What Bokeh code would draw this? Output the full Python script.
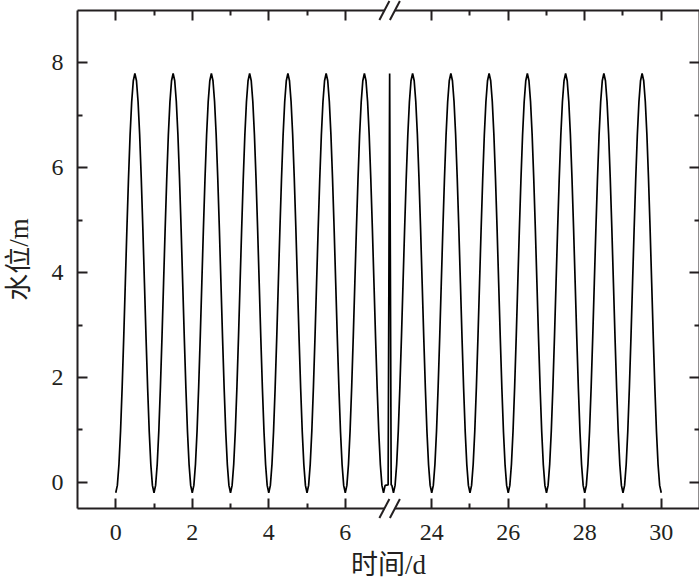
from bokeh.plotting import figure
from bokeh.models import Range1d, LinearAxis, FixedTicker, CustomJSTickFormatter, CustomLabelingPolicy
from bokeh.embed import file_html
from bokeh.resources import INLINE

# ---------------- data ----------------
# one tidal cycle (one day), water level (m) read every hour, trough at hour 0
cycle_hours = list(range(24))
cycle_level = [-0.20, -0.06, 0.34, 0.97, 1.80, 2.76, 3.80, 4.84, 5.80, 6.63, 7.26, 7.66,
               7.80, 7.66, 7.26, 6.63, 5.80, 4.84, 3.80, 2.76, 1.80, 0.97, 0.34, -0.06]
left_days = [0, 1, 2, 3, 4, 5, 6]            # cycles shown before the axis break
right_days = [23, 24, 25, 26, 27, 28, 29]    # cycles shown after the axis break
spike_level = [-0.05, 7.80, -0.05]           # line drawn at the break

x_major_left = [0, 2, 4, 6]
x_minor_left = [1, 3, 5]
x_major_right = [24, 26, 28, 30]
x_minor_right = [25, 27, 29]
y_major = [0, 2, 4, 6, 8]
y_minor = [1, 3, 5, 7]

break_left = 7.16     # axis value at the break, left part
break_right = 22.90   # axis value at the break, right part
x_start, x_end = -1.0, 31.0
y_start, y_end = -0.5, 9.0

x_title = "时间/d"
y_title = "水位/m"

# ---------------- build the broken-axis coordinates ----------------
shift = break_right - break_left
FW, FH = 622, 498
INK = "#231f20"

left_t = [d + h / 24 for d in left_days for h in cycle_hours]
left_y = cycle_level * len(left_days)
left_t += [left_days[-1] + 1 + h / 24 for h in cycle_hours[:2]]
left_y += cycle_level[:2]

right_t = [right_days[0] - 1 / 24] + [d + h / 24 for d in right_days for h in cycle_hours] + [right_days[-1] + 1]
right_y = [cycle_level[-1]] + cycle_level * len(right_days) + [cycle_level[0]]

spike_u = [break_left - 0.04, break_left, break_left + 0.04]

u_all = left_t + spike_u + [t - shift for t in right_t]
y_all = left_y + spike_level + right_y

p = figure(frame_width=FW, frame_height=FH,
           x_range=Range1d(x_start, x_end - shift), y_range=Range1d(y_start, y_end),
           output_backend="svg", toolbar_location=None,
           min_border_left=76, min_border_right=0, min_border_top=10, min_border_bottom=0)
p.outline_line_color = None
p.xgrid.visible = False
p.ygrid.visible = False
p.background_fill_color = "white"
p.border_fill_color = "white"

p.line(u_all, y_all, line_color="black", line_width=1.7)

xt = FixedTicker(ticks=x_major_left + [t - shift for t in x_major_right],
                 minor_ticks=x_minor_left + [t - shift for t in x_minor_right])
yt = FixedTicker(ticks=y_major, minor_ticks=y_minor)
fmt = CustomJSTickFormatter(args=dict(brk=break_left, shift=shift),
                            code="return String(Math.round(tick > brk ? tick + shift : tick));")
hide_all = CustomLabelingPolicy(code="for (let i = 0; i < indices.size; i++) { indices.unset(i) } return indices")


def style(ax, ticker, labels):
    ax.ticker = ticker
    ax.axis_line_width = 2
    ax.axis_line_color = INK
    ax.major_tick_in = 10
    ax.major_tick_out = 0
    ax.minor_tick_in = 5
    ax.minor_tick_out = 0
    ax.major_tick_line_width = 2
    ax.minor_tick_line_width = 2
    ax.major_tick_line_color = INK
    ax.minor_tick_line_color = INK
    ax.major_label_text_font = "Liberation Serif"
    ax.major_label_text_color = INK
    if labels:
        ax.major_label_text_font_size = "24px"
    else:
        ax.major_label_text_font_size = "0px"
        ax.major_label_standoff = 0
        ax.major_label_policy = hide_all


bottom = p.xaxis[0]
left = p.yaxis[0]
style(bottom, xt, True)
bottom.formatter = fmt
bottom.major_label_standoff = 16
style(left, yt, True)
left.major_label_standoff = 14

top = LinearAxis(formatter=fmt)
style(top, xt, False)
right = LinearAxis()
style(right, yt, False)
p.add_layout(top, "above")
p.add_layout(right, "right")

label_font = "'Liberation Serif', 'Noto Sans CJK SC'"
bottom.axis_label = x_title
left.axis_label = y_title
for ax in (bottom, left):
    ax.axis_label_text_font = label_font
    ax.axis_label_text_font_size = "27px"
    ax.axis_label_text_font_style = "normal"
    ax.axis_label_text_color = INK
bottom.axis_label_standoff = 7
left.axis_label_standoff = 15

# ---------------- break marks "//" on top and bottom axes ----------------
px_x = FW / (x_end - shift - x_start)
px_y = FH / (y_end - y_start)
hx, hy, dc, mh = 5 / px_x, 9.5 / px_y, 5.25 / px_x, 3 / px_y
for yy in (y_start, y_end):
    p.quad(left=[break_left - dc], right=[break_left + dc], bottom=[yy - mh], top=[yy + mh],
           fill_color="white", line_color=None, level="overlay")
    p.segment(x0=[break_left - dc - hx, break_left + dc - hx], y0=[yy - hy, yy - hy],
              x1=[break_left - dc + hx, break_left + dc + hx], y1=[yy + hy, yy + hy],
              line_color=INK, line_width=2, level="overlay")

open("out.html", "w").write(file_html(p, INLINE))
